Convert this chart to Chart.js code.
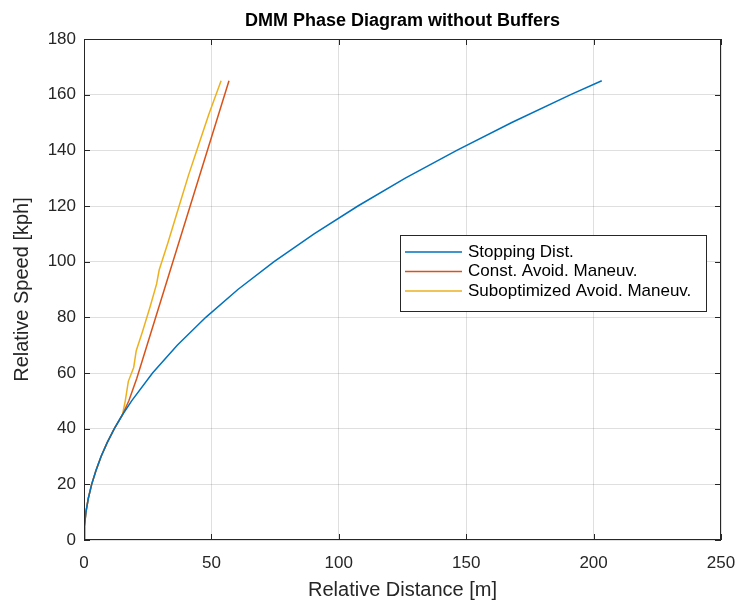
<!DOCTYPE html>
<html>
<head>
<meta charset="utf-8">
<script src="https://cdn.jsdelivr.net/npm/chart.js@4"></script>
<style>
  html, body { margin: 0; padding: 0; background: #fff; }
  #wrap { width: 740px; height: 608px; }
</style>
</head>
<body>
<div id="wrap"><canvas id="chart" width="740" height="608"></canvas></div>
<script>
'use strict';

// series (x = distance [m], y = speed [kph])
let stopDist  = [0, 0.19, 0.75, 1.7, 3.0, 4.7, 6.7, 9.1, 11.9, 15.1, 18.7, 26.9, 36.6, 47.8, 60.4, 74.6, 90.3, 107.5, 126.1, 146.3, 167.9, 191.0, 203.2];
let stopSpeed = [0, 5, 10, 15, 20, 25, 30, 35, 40, 45, 50, 60, 70, 80, 90, 100, 110, 120, 130, 140, 150, 160, 165];

let constDist  = [0, 0.19, 0.75, 1.7, 3.0, 4.7, 6.7, 9.1, 11.9, 15.1, 17.6, 20.7, 56.9];
let constSpeed = [0, 5, 10, 15, 20, 25, 30, 35, 40, 45, 50, 58, 165];

let subDist  = [0, 0.19, 0.75, 1.7, 3.0, 4.7, 6.7, 9.1, 11.9, 15.1, 16.2, 17.4, 19.5, 20.5, 23, 26, 28.5, 29.5, 33, 37, 41, 45, 49, 53.8];
let subSpeed = [0, 5, 10, 15, 20, 25, 30, 35, 40, 45, 50, 57, 62, 68, 75, 84, 92, 97, 107, 119, 131, 142, 153, 165];

let seriesNames = ['Stopping Dist.', 'Const. Avoid. Maneuv.', 'Suboptimized Avoid. Maneuv.'];
let seriesColors = ['#0072BD', '#D95319', '#EDB120'];

let xTicks = [0, 50, 100, 150, 200, 250];
let yTicks = [0, 20, 40, 60, 80, 100, 120, 140, 160, 180];

let FONT = '"Liberation Sans", Arial, Helvetica, sans-serif';
let AXIS = '#262626';

function toPoints(xs, ys) {
  let pts = [];
  for (let i = 0; i < xs.length; i++) {
    pts.push({ x: xs[i], y: ys[i] });
  }
  return pts;
}

let allSeries = [
  toPoints(stopDist, stopSpeed),
  toPoints(constDist, constSpeed),
  toPoints(subDist, subSpeed)
];

let datasets = [];
for (let i = 0; i < allSeries.length; i++) {
  datasets.push({
    label: seriesNames[i],
    data: allSeries[i],
    borderColor: seriesColors[i],
    backgroundColor: seriesColors[i],
    borderWidth: 1.5,
    pointRadius: 0,
    showLine: true,
    tension: 0
  });
}

// box round the axes, inner tick marks and the legend, MATLAB style
let matlabFrame = {
  id: 'matlabFrame',
  afterDatasetsDraw(chart) {
    let ctx = chart.ctx;
    let a = chart.chartArea;
    let xs = chart.scales.x;
    let ys = chart.scales.y;
    ctx.save();
    ctx.strokeStyle = AXIS;
    ctx.lineWidth = 1;
    ctx.strokeRect(a.left + 0.5, a.top + 0.5, a.right - a.left - 1, a.bottom - a.top - 1);
    ctx.beginPath();
    for (let t of xTicks) {
      let px = Math.round(xs.getPixelForValue(t)) + 0.5;
      ctx.moveTo(px, a.bottom); ctx.lineTo(px, a.bottom - 6);
      ctx.moveTo(px, a.top); ctx.lineTo(px, a.top + 6);
    }
    for (let t of yTicks) {
      let py = Math.round(ys.getPixelForValue(t)) + 0.5;
      ctx.moveTo(a.left, py); ctx.lineTo(a.left + 6, py);
      ctx.moveTo(a.right, py); ctx.lineTo(a.right - 6, py);
    }
    ctx.stroke();

    // legend
    let bx = 400, by = 235, bw = 306, bh = 76;
    ctx.fillStyle = '#fff';
    ctx.fillRect(bx, by, bw, bh);
    ctx.strokeStyle = AXIS;
    ctx.strokeRect(bx + 0.5, by + 0.5, bw, bh);
    ctx.font = '17px ' + FONT;
    ctx.textBaseline = 'middle';
    ctx.textAlign = 'left';
    let ds = chart.data.datasets;
    for (let i = 0; i < ds.length; i++) {
      let ry = by + 17 + i * 19.5;
      ctx.strokeStyle = ds[i].borderColor;
      ctx.lineWidth = 1.5;
      ctx.beginPath();
      ctx.moveTo(bx + 5, ry); ctx.lineTo(bx + 62, ry);
      ctx.stroke();
      ctx.fillStyle = '#000';
      ctx.fillText(ds[i].label, bx + 68, ry);
    }
    ctx.restore();
  }
};

let config = {
  type: 'scatter',
  data: { datasets: datasets },
  plugins: [matlabFrame],
  options: {
    responsive: false,
    animation: false,
    layout: { padding: { left: 0, right: 19, top: 0, bottom: 0 } },
    plugins: {
      legend: { display: false },
      tooltip: { enabled: false },
      title: {
        display: true,
        fullSize: false,
        text: 'DMM Phase Diagram without Buffers',
        color: '#000',
        font: { family: FONT, size: 18, weight: 'bold' },
        padding: { top: 10, bottom: 7.4 }
      }
    },
    scales: {
      x: {
        type: 'linear',
        min: 0,
        max: 250,
        afterBuildTicks(scale) { scale.ticks = xTicks.map(v => ({ value: v })); },
        afterFit(scale) { scale.height = 68; scale.paddingLeft = 0; scale.paddingRight = 0; },
        grid: { color: 'rgba(38,38,38,0.15)', drawTicks: false },
        border: { display: false },
        ticks: { color: AXIS, padding: 13, font: { family: FONT, size: 17 } },
        title: {
          display: true,
          text: 'Relative Distance [m]',
          color: AXIS,
          font: { family: FONT, size: 20 },
          padding: { top: 0, bottom: 6 }
        }
      },
      y: {
        type: 'linear',
        min: 0,
        max: 180,
        afterBuildTicks(scale) { scale.ticks = yTicks.map(v => ({ value: v })); },
        afterFit(scale) { scale.width = 84; scale.paddingTop = 0; scale.paddingBottom = 0; },
        grid: { color: 'rgba(38,38,38,0.15)', drawTicks: false },
        border: { display: false },
        ticks: { color: AXIS, padding: 8, font: { family: FONT, size: 17 } },
        title: {
          display: true,
          text: 'Relative Speed [kph]',
          color: AXIS,
          font: { family: FONT, size: 20 },
          padding: { top: 10, bottom: 0 }
        }
      }
    }
  }
};

new Chart(document.getElementById('chart'), config);
</script>
</body>
</html>
